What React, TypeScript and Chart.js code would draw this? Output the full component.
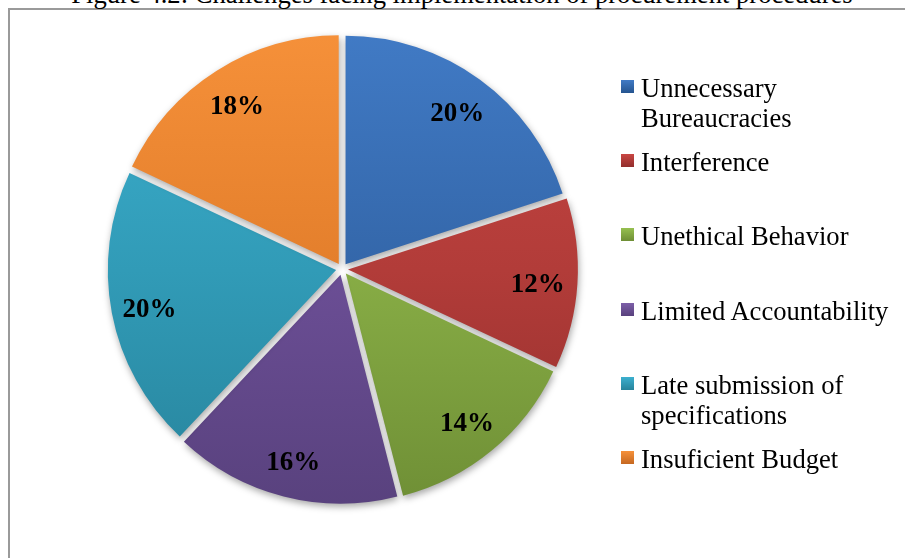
import React, { useEffect, useRef } from "react";
import { Chart, registerables } from "chart.js";

Chart.register(...registerables);

const TITLE = "Figure 4.2: Challenges facing implementation of procurement procedures";
const categories: string[][] = [
  ["Unnecessary", "Bureaucracies"],
  ["Interference"],
  ["Unethical Behavior"],
  ["Limited Accountability"],
  ["Late submission of", "specifications"],
  ["Insuficient Budget"],
];
const values: number[] = [20, 12, 14, 16, 20, 18];
const valueLabels: string[] = ["20%", "12%", "14%", "16%", "20%", "18%"];
const lightColors = ["#417bc6", "#c94643", "#96c050", "#7d5fa8", "#3cb0cf", "#f6913a"];
const baseColors = ["#3467aa", "#b23c39", "#87ac45", "#6b4e95", "#319bb7", "#e47f2c"];
const darkColors = ["#25548f", "#922e2c", "#6e8e35", "#58417d", "#27839b", "#c56821"];

const SERIF = "'Times New Roman', 'Liberation Serif', serif";

const shadowAndLabels = {
  id: "shadowAndLabels",
  beforeDatasetsDraw(chart: any) {
    const ctx = chart.ctx;
    ctx.save();
    ctx.shadowColor = "rgba(0,0,0,0.35)";
    ctx.shadowBlur = 7;
    ctx.shadowOffsetX = 1;
    ctx.shadowOffsetY = 3;
  },
  afterDatasetsDraw(chart: any) {
    const ctx = chart.ctx;
    ctx.restore();
    const meta = chart.getDatasetMeta(0);
    ctx.save();
    ctx.font = "bold 27px " + SERIF;
    ctx.fillStyle = "#000";
    ctx.textAlign = "center";
    ctx.textBaseline = "middle";
    meta.data.forEach((arc: any, i: number) => {
      const p = arc.getProps(["x", "y", "startAngle", "endAngle", "outerRadius"], true);
      const mid = (p.startAngle + p.endAngle) / 2;
      const r = p.outerRadius * 0.86;
      ctx.fillText(valueLabels[i], p.x + Math.cos(mid) * r, p.y + Math.sin(mid) * r + 4);
    });
    ctx.restore();
  },
};

export default function App() {
  const canvasRef = useRef<HTMLCanvasElement | null>(null);

  useEffect(() => {
    if (!canvasRef.current) return;
    const chart = new Chart(canvasRef.current, {
      type: "pie",
      data: {
        labels: categories.map((c) => c.join(" ")),
        datasets: [
          {
            data: values,
            backgroundColor: (context: any) => {
              const i = context.dataIndex;
              const area = context.chart.chartArea;
              if (!area) return baseColors[i];
              const g = context.chart.ctx.createLinearGradient(0, area.top, 0, area.bottom);
              g.addColorStop(0, lightColors[i]);
              g.addColorStop(0.5, baseColors[i]);
              g.addColorStop(1, darkColors[i]);
              return g;
            },
            borderWidth: 0,
            offset: 24,
          },
        ],
      },
      options: {
        responsive: false,
        animation: false,
        layout: { padding: { left: 102, top: 29, right: 323, bottom: 49 } },
        plugins: {
          legend: { display: false },
          title: { display: false },
          tooltip: { enabled: false },
        },
      },
      plugins: [shadowAndLabels],
    });
    return () => chart.destroy();
  }, []);

  const legendTop = 73;
  const legendStep = 74.2;

  return (
    <div
      style={{
        position: "absolute",
        left: 0,
        top: 0,
        width: 905,
        height: 558,
        overflow: "hidden",
        background: "#fff",
        fontFamily: SERIF,
      }}
    >
      <div
        style={{
          position: "absolute",
          left: 8,
          top: 8,
          width: 1000,
          height: 700,
          borderLeft: "2px solid #9a9a9a",
          borderTop: "2px solid #9a9a9a",
        }}
      />
      <div
        style={{
          position: "absolute",
          left: 0,
          width: 924,
          top: -19,
          textAlign: "center",
          fontSize: 26.6,
          lineHeight: "26px",
          color: "#000",
          whiteSpace: "nowrap",
        }}
      >
        {TITLE}
      </div>
      <canvas
        ref={canvasRef}
        width={905}
        height={558}
        style={{ position: "absolute", left: 0, top: 0, width: 905, height: 558 }}
      />
      {categories.map((lines, i) => (
        <div key={i}>
          <div
            style={{
              position: "absolute",
              left: 621,
              top: legendTop + i * legendStep + 7,
              width: 13,
              height: 13,
              background: `linear-gradient(to bottom, ${lightColors[i]}, ${darkColors[i]})`,
            }}
          />
          <div
            style={{
              position: "absolute",
              left: 641,
              top: legendTop + i * legendStep,
              fontSize: 26.6,
              lineHeight: "30px",
              color: "#000",
              whiteSpace: "nowrap",
            }}
          >
            {lines.map((l, j) => (
              <div key={j}>{l}</div>
            ))}
          </div>
        </div>
      ))}
    </div>
  );
}
